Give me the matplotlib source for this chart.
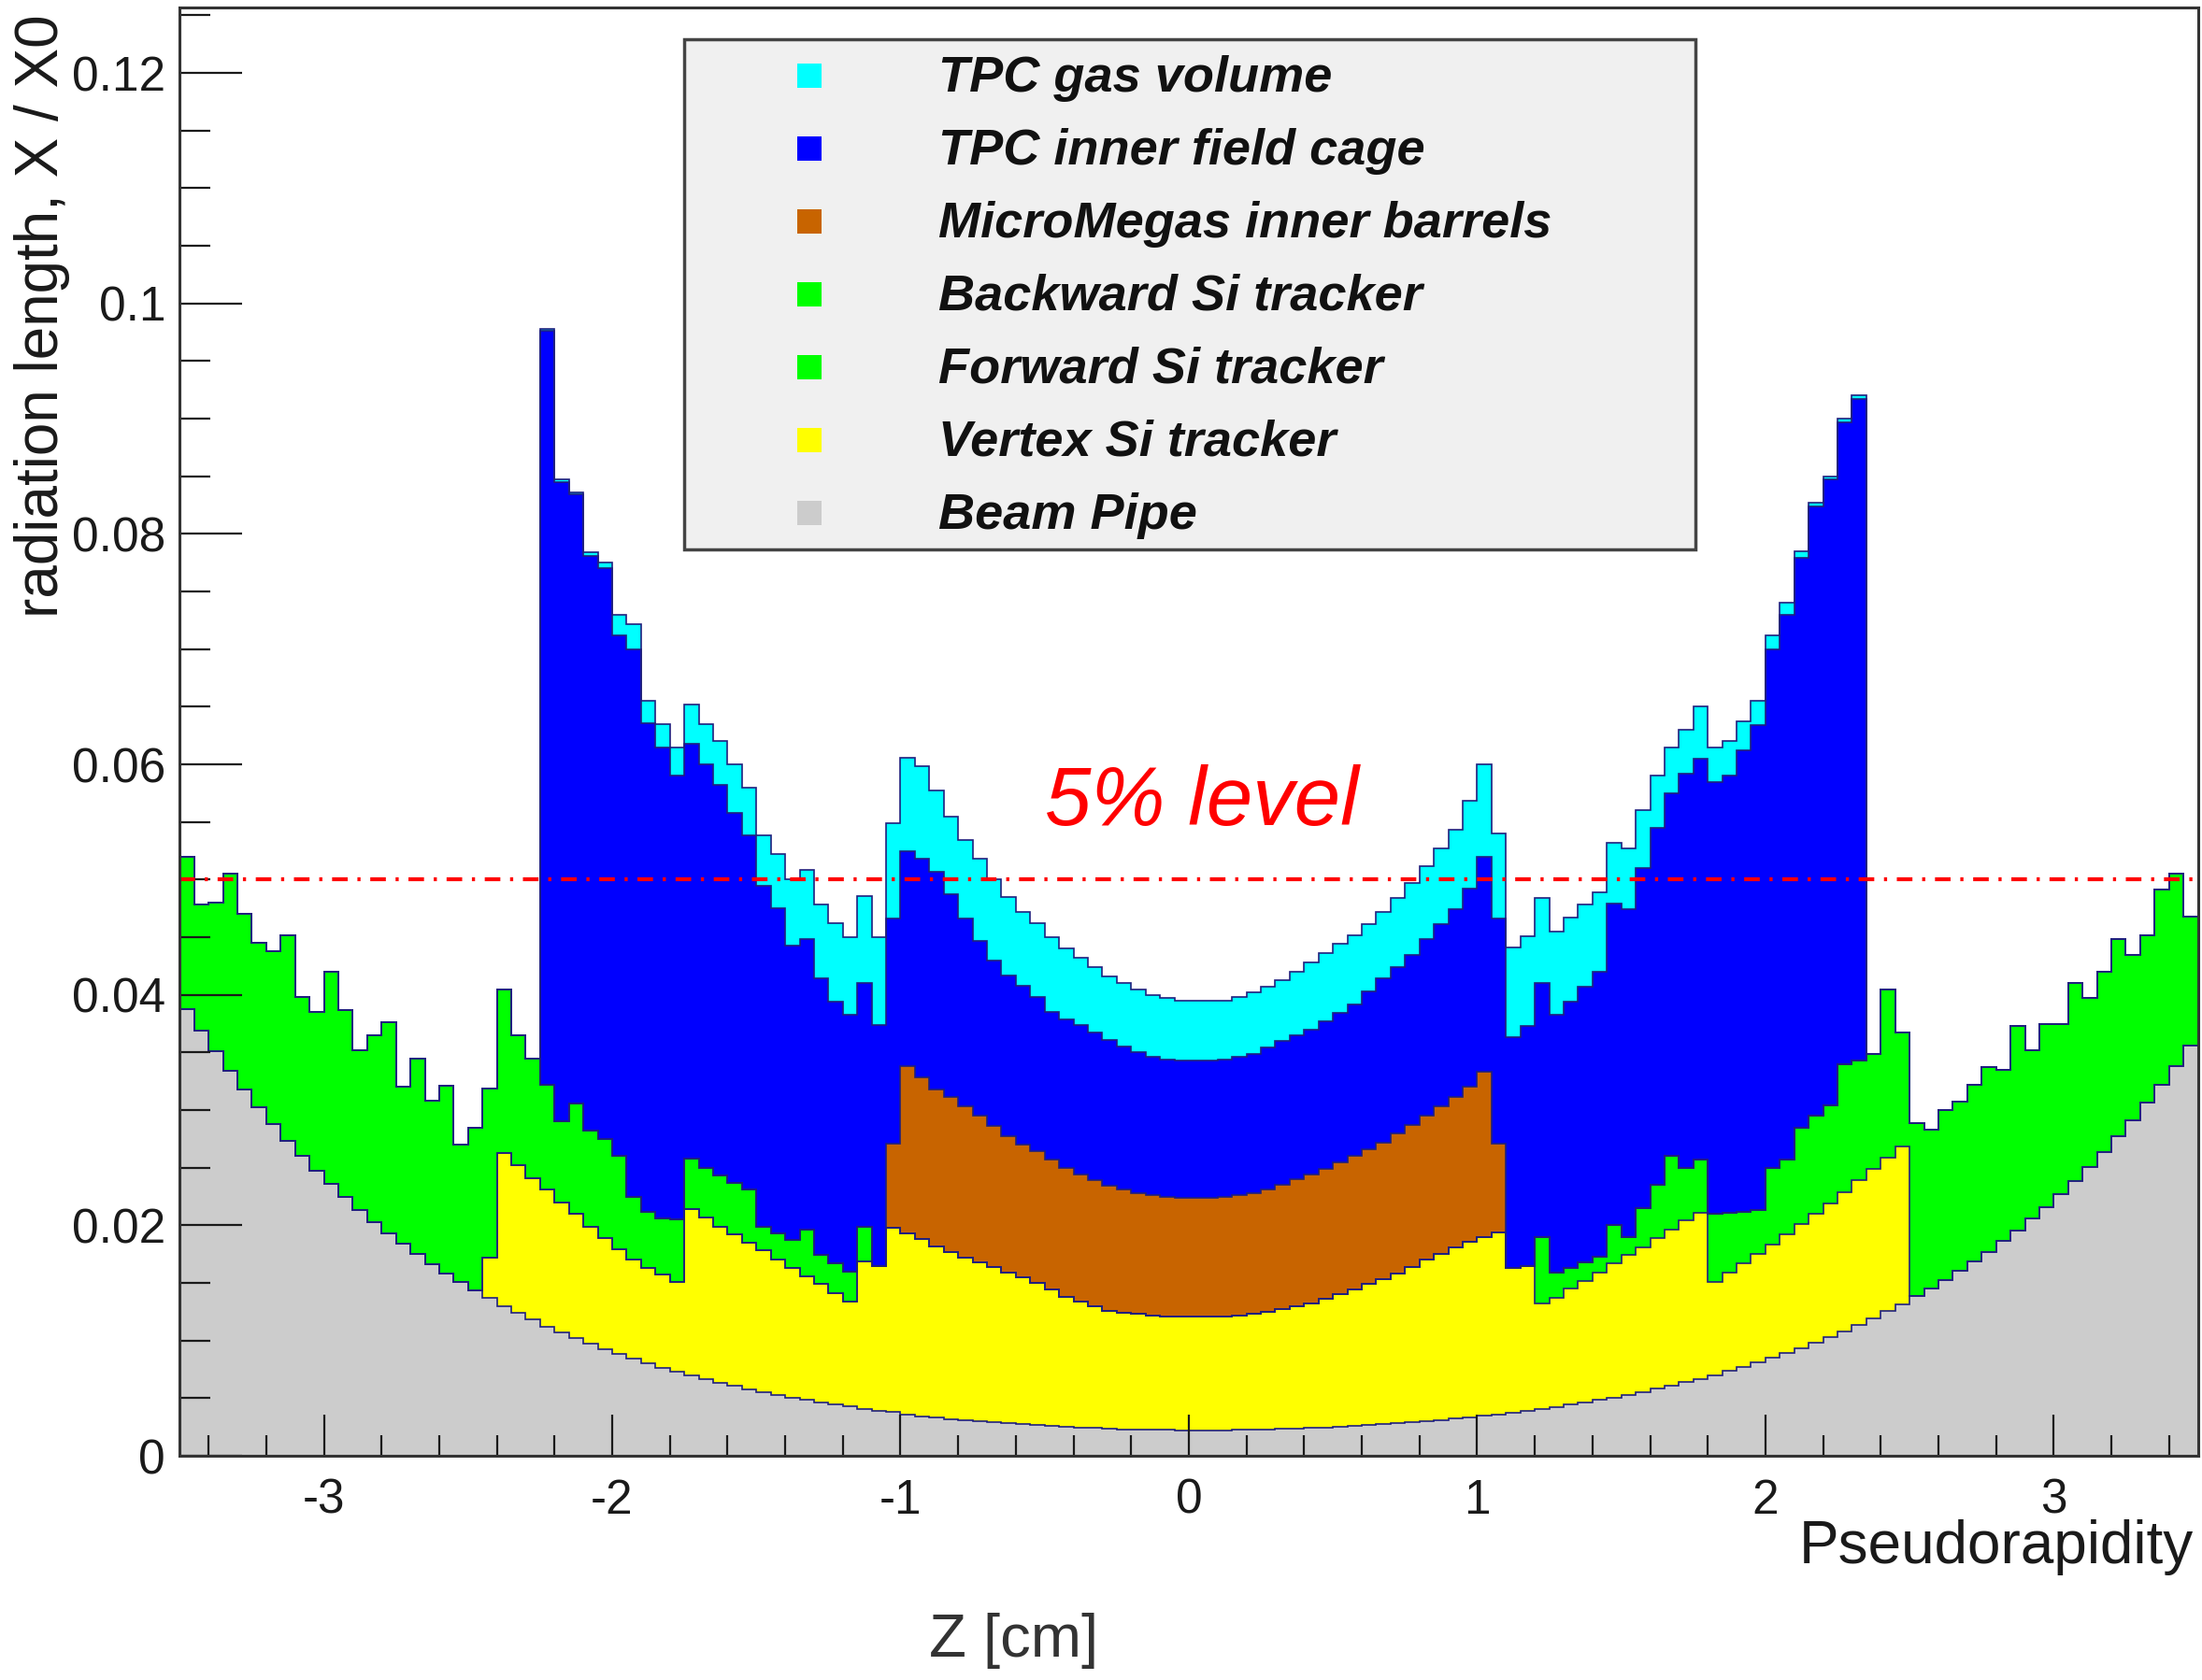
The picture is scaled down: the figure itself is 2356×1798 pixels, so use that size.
import numpy as np
import matplotlib.pyplot as plt
from matplotlib.patches import Rectangle

plt.rcParams['font.family'] = ['Liberation Sans', 'DejaVu Sans']
plt.rcParams['axes.unicode_minus'] = False

# 140 pseudorapidity bins, 0.05 wide
eta_edges = np.linspace(-3.5, 3.5, 141)

# Stacked X/X0 level at the top of each material, one value per bin.
# Each list starts at the bin index given next to it.
pipe_top = [
    0.03879, 0.03691, 0.03511, 0.03340, 0.03178, 0.03023, 0.02876, 0.02736, 0.02604, 0.02477,
    0.02357, 0.02243, 0.02134, 0.02030, 0.01932, 0.01839, 0.01750, 0.01665, 0.01585, 0.01509,
    0.01436, 0.01367, 0.01301, 0.01239, 0.01180, 0.01123, 0.01070, 0.01019, 0.00971, 0.00925,
    0.00881, 0.00840, 0.00801, 0.00764, 0.00728, 0.00695, 0.00663, 0.00633, 0.00605, 0.00578,
    0.00552, 0.00528, 0.00505, 0.00483, 0.00463, 0.00444, 0.00426, 0.00409, 0.00393, 0.00378,
    0.00356, 0.00343, 0.00331, 0.00320, 0.00309, 0.00300, 0.00291, 0.00282, 0.00275, 0.00268,
    0.00256, 0.00251, 0.00246, 0.00242, 0.00239, 0.00228, 0.00225, 0.00224, 0.00223, 0.00222,
    0.00220, 0.00221, 0.00222, 0.00223, 0.00226, 0.00228, 0.00232, 0.00236, 0.00240, 0.00245,
    0.00251, 0.00257, 0.00264, 0.00272, 0.00280, 0.00289, 0.00299, 0.00310, 0.00321, 0.00333,
    0.00346, 0.00360, 0.00375, 0.00390, 0.00407, 0.00424, 0.00443, 0.00463, 0.00484, 0.00506,
    0.00529, 0.00554, 0.00580, 0.00608, 0.00637, 0.00668, 0.00700, 0.00734, 0.00770, 0.00808,
    0.00848, 0.00890, 0.00934, 0.00981, 0.01030, 0.01081, 0.01136, 0.01193, 0.01253, 0.01316,
    0.01383, 0.01453, 0.01526, 0.01604, 0.01685, 0.01771, 0.01861, 0.01956, 0.02056, 0.02160,
    0.02271, 0.02387, 0.02508, 0.02637, 0.02771, 0.02913, 0.03062, 0.03218, 0.03383, 0.03556,
]

vertex_start = 21
vertex_top = [
    0.0172, 0.0263, 0.0252, 0.0241, 0.0231, 0.0220, 0.0210, 0.0199, 0.0189, 0.0179,
    0.0170, 0.0163, 0.0157, 0.0151, 0.0214, 0.0207, 0.0199, 0.0192, 0.0185, 0.0178,
    0.0170, 0.0163, 0.0156, 0.0149, 0.0141, 0.0134, 0.0169, 0.0165, 0.0198, 0.0193,
    0.0188, 0.0182, 0.0177, 0.0172, 0.0168, 0.0164, 0.0159, 0.0155, 0.0150, 0.0144,
    0.0138, 0.0134, 0.0130, 0.0126, 0.0124, 0.0123, 0.0122, 0.0121, 0.0121, 0.0121,
    0.0121, 0.0121, 0.0122, 0.0123, 0.0125, 0.0127, 0.0130, 0.0132, 0.0136, 0.0140,
    0.0144, 0.0149, 0.0153, 0.0158, 0.0164, 0.0170, 0.0175, 0.0181, 0.0186, 0.0190,
    0.0194, 0.0163, 0.0165, 0.0132, 0.0137, 0.0145, 0.0152, 0.0159, 0.0167, 0.0174,
    0.0181, 0.0189, 0.0196, 0.0204, 0.0211, 0.0151, 0.0159, 0.0167, 0.0175, 0.0183,
    0.0192, 0.0201, 0.0210, 0.0219, 0.0229, 0.0239, 0.0249, 0.0259, 0.0268,
]

forward_start = 94
forward_top = [
    0.0190, 0.0159, 0.0163, 0.0168, 0.0173, 0.0200, 0.0190, 0.0215, 0.0235, 0.0260,
    0.0250, 0.0257, 0.0210, 0.0211, 0.0212, 0.0213, 0.0250, 0.0257, 0.0285, 0.0295,
    0.0304, 0.0340, 0.0343, 0.0349, 0.0405, 0.0367, 0.0289, 0.0283, 0.0300, 0.0307,
    0.0322, 0.0337, 0.0335, 0.0373, 0.0352, 0.0375, 0.0375, 0.0410, 0.0397, 0.0420,
    0.0448, 0.0435, 0.0452, 0.0491, 0.0505, 0.0468,
]

backward_start = 0
backward_top = [
    0.0520, 0.0478, 0.0480, 0.0505, 0.0470, 0.0445, 0.0438, 0.0452, 0.0398, 0.0385,
    0.0420, 0.0387, 0.0352, 0.0365, 0.0376, 0.0320, 0.0345, 0.0308, 0.0321, 0.0270,
    0.0285, 0.0319, 0.0405, 0.0365, 0.0345, 0.0322, 0.0290, 0.0306, 0.0282, 0.0275,
    0.0260, 0.0225, 0.0212, 0.0206, 0.0205, 0.0258, 0.0250, 0.0243, 0.0237, 0.0231,
    0.0199, 0.0193, 0.0187, 0.0196, 0.0174, 0.0167, 0.0160, 0.0199,
]

micromegas_start = 49
micromegas_top = [
    0.0271, 0.0338, 0.0328, 0.0318, 0.0311, 0.0303, 0.0295, 0.0286, 0.0277, 0.0270,
    0.0264, 0.0257, 0.0250, 0.0244, 0.0239, 0.0234, 0.0231, 0.0228, 0.0226, 0.0225,
    0.0224, 0.0224, 0.0224, 0.0225, 0.0226, 0.0228, 0.0231, 0.0235, 0.0240, 0.0244,
    0.0249, 0.0255, 0.0260, 0.0266, 0.0272, 0.0280, 0.0287, 0.0295, 0.0303, 0.0311,
    0.0320, 0.0333, 0.0271,
]

tpc_start = 25
cage_top = [
    0.0976, 0.0845, 0.0834, 0.0781, 0.0770, 0.0712, 0.0700, 0.0636, 0.0615, 0.0590,
    0.0618, 0.0600, 0.0582, 0.0558, 0.0538, 0.0495, 0.0475, 0.0443, 0.0448, 0.0414,
    0.0394, 0.0383, 0.0410, 0.0374, 0.0466, 0.0525, 0.0518, 0.0507, 0.0487, 0.0466,
    0.0447, 0.0430, 0.0417, 0.0408, 0.0398, 0.0385, 0.0379, 0.0374, 0.0367, 0.0361,
    0.0355, 0.0350, 0.0346, 0.0344, 0.0343, 0.0343, 0.0343, 0.0344, 0.0346, 0.0349,
    0.0354, 0.0360, 0.0365, 0.0370, 0.0377, 0.0384, 0.0392, 0.0403, 0.0414, 0.0424,
    0.0435, 0.0448, 0.0461, 0.0474, 0.0492, 0.0520, 0.0466, 0.0363, 0.0373, 0.0410,
    0.0383, 0.0394, 0.0407, 0.0420, 0.0479, 0.0474, 0.0510, 0.0545, 0.0575, 0.0592,
    0.0605, 0.0585, 0.0590, 0.0612, 0.0634, 0.0700, 0.0730, 0.0779, 0.0824, 0.0847,
    0.0897, 0.0917,
]
gas_top = [
    0.0978, 0.0847, 0.0836, 0.0784, 0.0775, 0.0730, 0.0722, 0.0655, 0.0635, 0.0615,
    0.0652, 0.0635, 0.0620, 0.0600, 0.0580, 0.0538, 0.0522, 0.0500, 0.0508, 0.0478,
    0.0462, 0.0450, 0.0486, 0.0450, 0.0549, 0.0606, 0.0598, 0.0577, 0.0555, 0.0534,
    0.0518, 0.0500, 0.0485, 0.0472, 0.0462, 0.0450, 0.0440, 0.0432, 0.0424, 0.0416,
    0.0410, 0.0405, 0.0400, 0.0397, 0.0395, 0.0395, 0.0395, 0.0395, 0.0398, 0.0402,
    0.0407, 0.0413, 0.0420, 0.0428, 0.0436, 0.0444, 0.0452, 0.0461, 0.0472, 0.0484,
    0.0497, 0.0512, 0.0527, 0.0543, 0.0568, 0.0600, 0.0540, 0.0441, 0.0451, 0.0484,
    0.0455, 0.0467, 0.0478, 0.0489, 0.0532, 0.0527, 0.0560, 0.0590, 0.0615, 0.0630,
    0.0650, 0.0615, 0.0620, 0.0637, 0.0655, 0.0712, 0.0740, 0.0785, 0.0827, 0.0850,
    0.0900, 0.0920,
]

# stacking order, bottom first: (legend name, fill colour, first bin, level list)
layers = [
    ('Beam Pipe', '#cccccc', 0, pipe_top),
    ('Vertex Si tracker', '#ffff00', vertex_start, vertex_top),
    ('Forward Si tracker', '#00ff00', forward_start, forward_top),
    ('Backward Si tracker', '#00ff00', backward_start, backward_top),
    ('MicroMegas inner barrels', '#c86400', micromegas_start, micromegas_top),
    ('TPC inner field cage', '#0000ff', tpc_start, cage_top),
    ('TPC gas volume', '#00ffff', tpc_start, gas_top),
]
legend_order = ['TPC gas volume', 'TPC inner field cage', 'MicroMegas inner barrels',
                'Backward Si tracker', 'Forward Si tracker', 'Vertex Si tracker', 'Beam Pipe']

eta_ticks = [-3, -2, -1, 0, 1, 2, 3]
x0_ticks = [0, 0.02, 0.04, 0.06, 0.08, 0.1, 0.12]
x0_tick_labels = ['0', '0.02', '0.04', '0.06', '0.08', '0.1', '0.12']
reference_level = 0.05

W, H = 2356, 1798
fig = plt.figure(figsize=(W / 100, H / 100), dpi=100)
ax = fig.add_axes([192.3 / W, 1 - 1558 / H, 2159.3 / W, 1550.5 / H])

outline = '#20207e'
level = np.zeros(len(eta_edges) - 1)
tops = []
for name, color, first, values in layers:
    new = level.copy()
    new[first:first + len(values)] = values
    ax.stairs(new, eta_edges, baseline=level, fill=True, facecolor=color,
              edgecolor='none', lw=0, zorder=1)
    tops.append(new)
    level = new
for top in tops:
    ax.stairs(top, eta_edges, baseline=None, color=outline, lw=1.2, zorder=1.5)

# 5% reference line
ax.axhline(reference_level, color='#ff0000', lw=3, ls=(0, (4, 2.5, 0.8, 2.5)), zorder=4)
ax.text(-0.5, 0.0547, '5% level', color='#ff0000', fontsize=64, style='italic',
        ha='left', va='baseline', zorder=5)

ax.set_xlim(-3.5, 3.5)
ax.set_ylim(0, 1550.5 / 12333)
ax.set_xticks(eta_ticks)
ax.set_xticklabels([str(t) for t in eta_ticks])
ax.set_xticks(np.arange(-3.4, 3.5, 0.2), minor=True)
ax.set_yticks(x0_ticks)
ax.set_yticklabels(x0_tick_labels)
ax.set_yticks(np.arange(0, 0.126, 0.005), minor=True)

ax.tick_params(axis='y', which='major', direction='in', length=48, width=1.6,
               pad=11, labelsize=37, colors='#1a1a1a', right=False)
ax.tick_params(axis='y', which='minor', direction='in', length=24, width=1.6,
               colors='#1a1a1a', right=False)
ax.tick_params(axis='x', which='major', direction='in', length=32, width=1.6,
               pad=17, labelsize=37, colors='#1a1a1a', top=False)
ax.tick_params(axis='x', which='minor', direction='in', length=16, width=1.6,
               colors='#1a1a1a', top=False)
for spine in ax.spines.values():
    spine.set_linewidth(2.2)
    spine.set_color('#333333')
    spine.set_zorder(6)

# axis titles
fig.text(45 / W, 1 - 15 / H, 'radiation length, X / X0', rotation=90,
         ha='center', va='top', fontsize=46, color='#1a1a1a')
fig.text(2347 / W, 1 - 1673 / H, 'Pseudorapidity', ha='right', va='baseline',
         fontsize=46, color='#1a1a1a')
fig.text(1085 / W, 1 - 1773 / H, 'Z [cm]', ha='center', va='baseline',
         fontsize=47, color='#333333')

# legend box, entries listed top to bottom
box_left, box_right, box_top, box_bottom = 732, 1814, 42, 588
fig.patches.append(Rectangle((box_left / W, 1 - box_bottom / H),
                             (box_right - box_left) / W, (box_bottom - box_top) / H,
                             transform=fig.transFigure, facecolor='#f0f0f0',
                             edgecolor='#444444', lw=2.5, zorder=10))
colors = {name: color for name, color, first, values in layers}
row_h = (box_bottom - box_top) / len(legend_order)
for pos, name in enumerate(legend_order):
    yc = box_top + row_h * (pos + 0.5)
    fig.patches.append(Rectangle(((866 - 13) / W, 1 - (yc + 13) / H), 26 / W, 26 / H,
                                 transform=fig.transFigure, facecolor=colors[name],
                                 edgecolor='none', zorder=11))
    fig.text(1004 / W, 1 - (yc + 17) / H, name, ha='left', va='baseline',
             fontsize=39, fontweight='bold', style='italic', color='#111111', zorder=12)

fig.savefig('out.png', dpi=100)
